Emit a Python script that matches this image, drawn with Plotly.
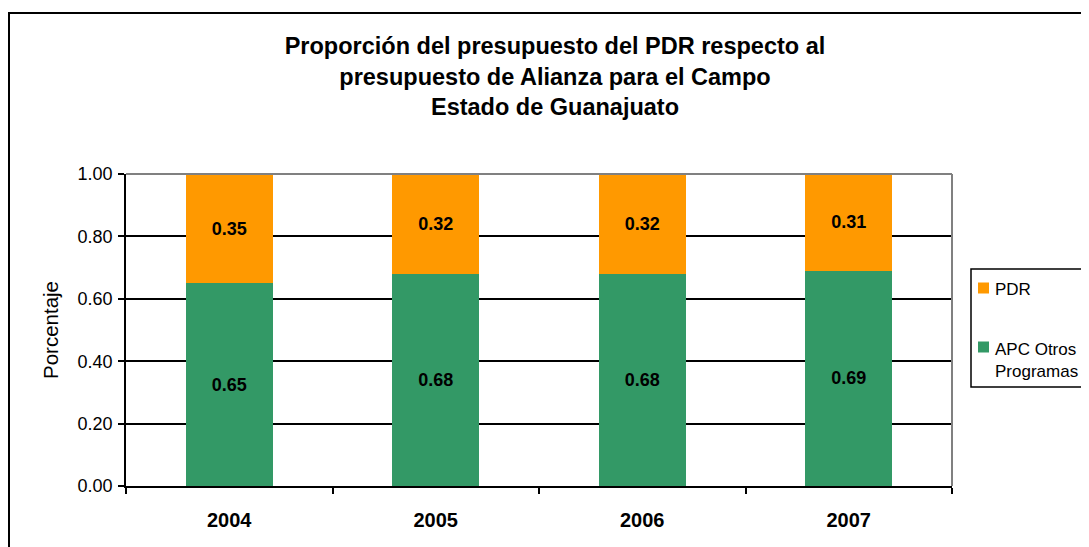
import plotly.graph_objects as go

years = ["2004", "2005", "2006", "2007"]
apc_otros = [0.65, 0.68, 0.68, 0.69]
pdr = [0.35, 0.32, 0.32, 0.31]
y_ticks = [0.0, 0.2, 0.4, 0.6, 0.8, 1.0]

# the page body has an 8px margin, so figure coords = screen coords - 8
OFF = 8
W, H = 1089 - OFF, 547 - OFF
L, R, T, B = 126 - OFF, 952 - OFF, 174 - OFF, 486 - OFF  # plot area

def px(x):
    return (x - OFF - L) / (R - L)

def py(y):
    return (B - (y - OFF)) / (B - T)

FONT = "Liberation Sans, Arial, sans-serif"
GREEN, ORANGE = "#339966", "#FF9900"

fig = go.Figure()
fig.add_trace(go.Bar(
    x=years, y=apc_otros, name="APC Otros<br>Programas",
    marker=dict(color=GREEN, line=dict(width=0)),
    text=[f"{v:.2f}" for v in apc_otros], textposition="inside",
    insidetextanchor="middle", textangle=0,
    textfont=dict(family=FONT, size=18, color="black", weight="bold"),
))
fig.add_trace(go.Bar(
    x=years, y=pdr, name="PDR",
    marker=dict(color=ORANGE, line=dict(width=0)),
    text=[f"{v:.2f}" for v in pdr], textposition="inside",
    insidetextanchor="middle", textangle=0,
    textfont=dict(family=FONT, size=18, color="black", weight="bold"),
))

fig.update_layout(
    width=W, height=H,
    barmode="stack", bargap=0.58,
    margin=dict(l=L, r=W - R, t=T, b=H - B, autoexpand=False),
    plot_bgcolor="white", paper_bgcolor="white",
    font=dict(family=FONT, size=18, color="black"),
    title=dict(
        text="Proporción del presupuesto del PDR respecto al<br>presupuesto de Alianza para el Campo<br>Estado de Guanajuato",
        x=(555 - OFF) / W, xanchor="center", y=1 - (54 - OFF) / H, yanchor="top",
        font=dict(family=FONT, size=23.5, color="black", weight="bold"),
    ),
    showlegend=False,
)

fig.update_yaxes(
    range=[0, 1], tickvals=y_ticks, tickformat=".2f",
    showgrid=True, gridcolor="black", gridwidth=1.5,
    showline=True, linecolor="black", linewidth=1.5,
    ticks="outside", ticklen=6, tickcolor="black", tickwidth=1.5,
    tickfont=dict(size=18), ticklabelstandoff=2,
    title=dict(text="Porcentaje", font=dict(size=20.5), standoff=13),
    zeroline=False,
)
fig.update_xaxes(
    showline=True, linecolor="black", linewidth=1.5,
    ticks="outside", ticklen=6, tickcolor="black", tickwidth=1.5,
    tickson="boundaries", ticklabelstandoff=15,
    tickfont=dict(size=20, weight="bold"),
    showgrid=False,
)

# gray border on top and right of plot area
fig.add_shape(type="line", xref="paper", yref="paper", x0=0, x1=1, y0=1, y1=1,
              line=dict(color="#808080", width=2), layer="above")
fig.add_shape(type="line", xref="paper", yref="paper", x0=1, x1=1, y0=0, y1=1,
              line=dict(color="#808080", width=2), layer="above")

# outer chart frame (runs past the right and bottom edges of the window)
fig.add_shape(type="rect", xref="paper", yref="paper",
              x0=px(9), x1=px(1110), y0=py(13), y1=py(570),
              line=dict(color="black", width=2), layer="below")

# legend box drawn by hand so the text can run to the window edge
fig.add_shape(type="rect", xref="paper", yref="paper",
              x0=px(971), x1=px(1120), y0=py(269), y1=py(387),
              line=dict(color="black", width=1.5), fillcolor="white", layer="above")
legend_items = [(fig.data[1], 288, 289), (fig.data[0], 347, 360)]
for tr, sq_y, txt_y in legend_items:
    fig.add_shape(type="rect", xref="paper", yref="paper",
                  x0=px(978), x1=px(989), y0=py(sq_y - 5.5), y1=py(sq_y + 5.5),
                  line=dict(width=0), fillcolor=tr.marker.color, layer="above")
    fig.add_annotation(xref="paper", yref="paper", x=px(993), y=py(txt_y),
                       xanchor="left", yanchor="middle", align="left",
                       text=tr.name, showarrow=False,
                       font=dict(family=FONT, size=17, color="black"))

fig.write_html("out.html")
